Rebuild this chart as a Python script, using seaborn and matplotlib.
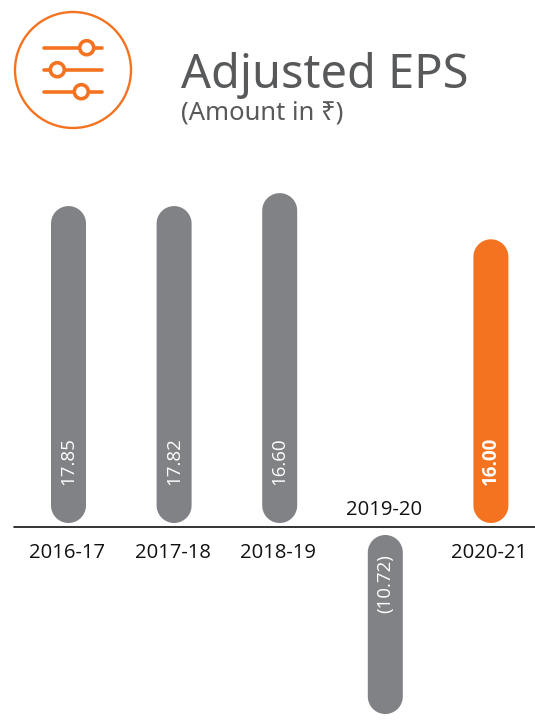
import matplotlib
matplotlib.use("Agg")
import matplotlib.pyplot as plt
import numpy as np
import pandas as pd
import seaborn as sns
from matplotlib.patches import Circle, PathPatch
from matplotlib.path import Path
from matplotlib.transforms import IdentityTransform

# values
years = ["2016-17", "2017-18", "2018-19", "2019-20", "2020-21"]
drawn_heights = [18.07, 18.07, 18.8, -10.53, 16.2]  # bar lengths as drawn
value_labels = ["17.85", "17.82", "16.60", "(10.72)", "16.00"]

GREY = "#808285"
ORANGE = "#f47321"
TEXT_GREY = "#58595b"
FONT = ["Open Sans", "DejaVu Sans"]
TITLE_FONT = ["Noto Sans", "DejaVu Sans"]

W, H = 535, 726
PX_PER_UNIT = 17.76
ZERO_Y = 527
BAR_SPACING = 105.6
FIRST_X = 68.5

sns.set_theme(style="white")
plt.rcParams["font.family"] = FONT


def pill_path(x0, x1, low, high):
    # vertical bar with fully round ends, in display pixels
    r = (x1 - x0) / 2
    mid = (x0 + x1) / 2
    t = np.linspace(0, np.pi, 40)
    top = np.column_stack([mid + r * np.cos(t), high - r + r * np.sin(t)])
    bottom = np.column_stack([mid - r * np.cos(t), low + r - r * np.sin(t)])
    return Path(np.vstack([top, bottom, top[:1]]), closed=True)


fig = plt.figure(figsize=(W / 100, H / 100), dpi=100, facecolor="white")
ax = fig.add_axes([0, 0, 1, 1])

data = pd.DataFrame({"year": years, "eps": drawn_heights})
sns.barplot(
    ax=ax,
    data=data,
    x="year",
    y="eps",
    hue="year",
    palette=[GREY, GREY, GREY, GREY, ORANGE],
    saturation=1,
    legend=False,
    errorbar=None,
    width=35 / BAR_SPACING,
)
ax.set_xlim(-FIRST_X / BAR_SPACING, (W - FIRST_X) / BAR_SPACING)
ax.set_ylim(-(H - ZERO_Y) / PX_PER_UNIT, ZERO_Y / PX_PER_UNIT)
ax.axis("off")
ax.patch.set_alpha(0)

# swap the square seaborn bars for pills, with a small gap at the axis line
for bar in list(ax.patches):
    x0, y0 = ax.transData.transform((bar.get_x(), bar.get_y()))
    x1, y1 = ax.transData.transform((bar.get_x() + bar.get_width(), bar.get_y() + bar.get_height()))
    low, high = min(y0, y1), max(y0, y1)
    if bar.get_height() > 0:
        low += 4
    else:
        high -= 8
    ax.add_patch(
        PathPatch(
            pill_path(x0, x1, low, high),
            transform=IdentityTransform(),
            facecolor=bar.get_facecolor(),
            edgecolor="none",
        )
    )
    bar.set_visible(False)

# axis line
ax.plot([(14 - FIRST_X) / BAR_SPACING, (W - FIRST_X) / BAR_SPACING], [0, 0], color="#111111", lw=1.2)

# labels inside and next to the bars
for i, (year, val, label) in enumerate(zip(years, drawn_heights, value_labels)):
    if val > 0:
        ax.text(i - 0.015, -26 / PX_PER_UNIT, year, ha="center", va="center", fontsize=14.6, color="#111111")
        ax.text(i, 42 / PX_PER_UNIT, label, ha="center", va="bottom", rotation=90,
                fontsize=13.5, color="white", weight="bold" if i == 4 else "normal")
    else:
        ax.text(i - 0.015, 17 / PX_PER_UNIT, year, ha="center", va="center", fontsize=14.6, color="#111111")
        ax.text(i, -86 / PX_PER_UNIT, label, ha="center", va="bottom", rotation=90, fontsize=13.5, color="white")

# header, in pixel coordinates
head = fig.add_axes([0, 0, 1, 1])
head.set_xlim(0, W)
head.set_ylim(H, 0)
head.axis("off")
head.patch.set_alpha(0)

head.add_patch(Circle((73, 70), 58, fill=False, edgecolor=ORANGE, lw=1.7))
for line_y, knob_x in [(47.7, 86.7), (69.7, 57.3), (91.7, 81.3)]:
    head.plot([44, 102], [line_y, line_y], color=ORANGE, lw=2.6, solid_capstyle="round")
    head.add_patch(Circle((knob_x, line_y), 7, facecolor="white", edgecolor=ORANGE, lw=2.6, zorder=3))

head.text(181, 88, "Adjusted EPS", fontsize=33.8, color=TEXT_GREY, family=TITLE_FONT, va="baseline")
head.text(181, 120, "(Amount in ₹)", fontsize=18.4, color=TEXT_GREY, family=TITLE_FONT, va="baseline")

fig.savefig("out.png", dpi=100)
print("Output: out.png")
